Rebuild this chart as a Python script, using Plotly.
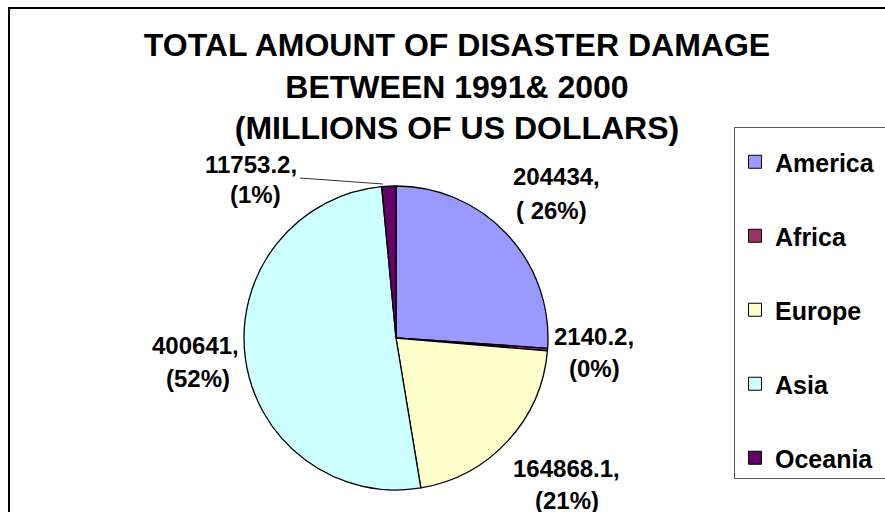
import plotly.graph_objects as go

# ---- data ----
regions = ["America", "Africa", "Europe", "Asia", "Oceania"]
damage = [204434, 2140.2, 164868.1, 400641, 11753.2]
pct_labels = ["( 26%)", "(0%)", "(21%)", "(52%)", "(1%)"]
colors = ["#9999FF", "#993366", "#FFFFCC", "#CCFFFF", "#660066"]
title_lines = ["TOTAL AMOUNT OF DISASTER DAMAGE", "BETWEEN 1991& 2000", "(MILLIONS OF US DOLLARS)"]

W, H = 885, 512
FONT = "Arial, 'Liberation Sans', sans-serif"


def px(x):
    return x / W


def py(y):
    return 1 - y / H


# label layout (pixel centres of the value line and percent line)
label_pos = {
    "America": ((556, 176), (551, 210)),
    "Africa": ((594, 336), (594, 368)),
    "Europe": ((566, 468), (567, 500)),
    "Asia": ((195, 345), (198, 378)),
    "Oceania": ((251, 164), (255, 194)),
}

cx, cy, r = 396, 338, 152

fig = go.Figure()
fig.add_trace(go.Pie(
    labels=regions,
    values=damage,
    sort=False,
    direction="clockwise",
    rotation=0,
    marker=dict(colors=colors, line=dict(color="black", width=1.3)),
    textinfo="none",
    hoverinfo="label+value+percent",
    showlegend=False,
    domain=dict(x=[px(cx - r), px(cx + r)], y=[py(cy + r), py(cy - r)]),
))

# legend entries (one group each so they can be spaced like the original)
for name, col in zip(regions, colors):
    fig.add_trace(go.Scatter(
        x=[None], y=[None], mode="markers", name=name, legendgroup=name,
        marker=dict(symbol="square", size=13, color=col, line=dict(color="black", width=1)),
    ))

annotations = []
for name, v, p in zip(regions, damage, pct_labels):
    (x1, y1), (x2, y2) = label_pos[name]
    annotations.append(dict(x=px(x1), y=py(y1), xref="paper", yref="paper", text=f"{v},",
                            showarrow=False, xanchor="center", yanchor="middle",
                            font=dict(family=FONT, size=24, color="black", weight="bold")))
    annotations.append(dict(x=px(x2), y=py(y2), xref="paper", yref="paper", text=p,
                            showarrow=False, xanchor="center", yanchor="middle",
                            font=dict(family=FONT, size=24, color="black", weight="bold")))

shapes = [
    # outer chart frame (left and top edges visible; the rest lies outside the picture)
    dict(type="line", xref="paper", yref="paper", x0=px(9), x1=px(9), y0=py(8), y1=py(600),
         line=dict(color="black", width=2)),
    dict(type="line", xref="paper", yref="paper", x0=px(8), x1=px(1000), y0=py(8), y1=py(8),
         line=dict(color="black", width=2)),
    # legend frame (left, top and bottom edges)
    dict(type="line", xref="paper", yref="paper", x0=px(734.5), x1=px(734.5), y0=py(127.5), y1=py(478.5),
         line=dict(color="#555555", width=1)),
    dict(type="line", xref="paper", yref="paper", x0=px(734.5), x1=px(1000), y0=py(127.5), y1=py(127.5),
         line=dict(color="#555555", width=1)),
    dict(type="line", xref="paper", yref="paper", x0=px(734.5), x1=px(1000), y0=py(478.5), y1=py(478.5),
         line=dict(color="#555555", width=1)),
    # leader line for Oceania label
    dict(type="line", xref="paper", yref="paper", x0=px(300), y0=py(178), x1=px(383), y1=py(184),
         line=dict(color="black", width=0.8)),
]

fig.update_layout(
    width=W, height=H,
    margin=dict(l=0, r=0, t=0, b=0),
    paper_bgcolor="white", plot_bgcolor="white",
    title=dict(text="<br>".join(title_lines), x=px(457), xanchor="center",
               y=py(56), yanchor="top", yref="paper",
               font=dict(family=FONT, size=32, color="black", weight="bold")),
    xaxis=dict(visible=False), yaxis=dict(visible=False),
    showlegend=True,
    legend=dict(x=px(735), xanchor="left", y=py(139), yanchor="top",
                font=dict(family=FONT, size=25, color="black", weight="bold"),
                tracegroupgap=38.5, bgcolor="rgba(0,0,0,0)", borderwidth=0,
                itemclick=False, itemdoubleclick=False),
    annotations=annotations,
    shapes=shapes,
)

fig.write_html("out.html", config={"displayModeBar": False},
               post_script="document.body.style.margin='0';document.body.style.overflow='hidden';")
